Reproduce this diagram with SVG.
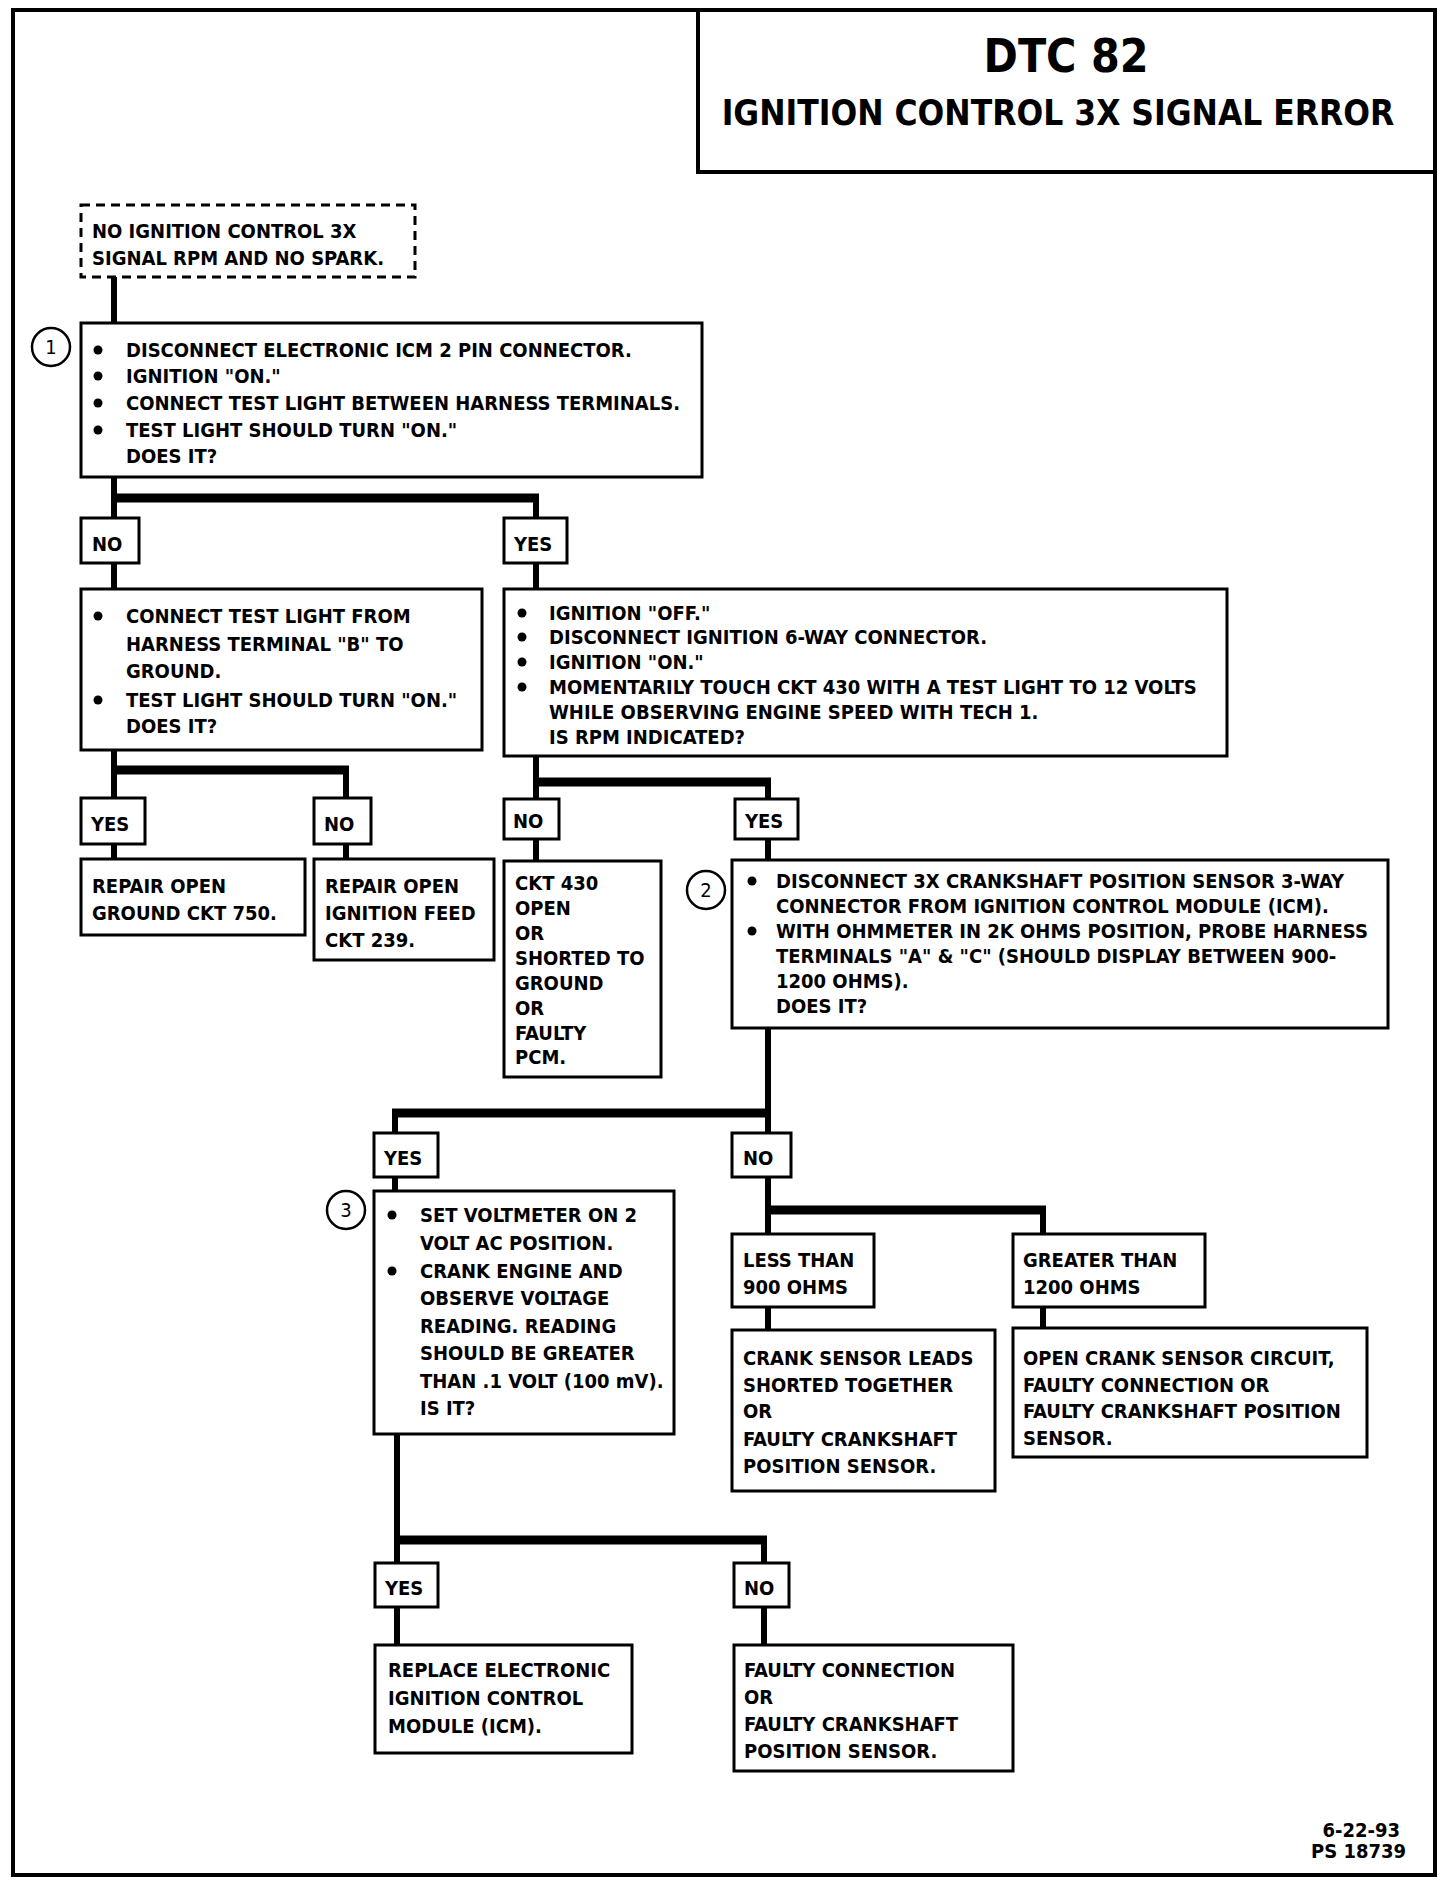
<svg xmlns="http://www.w3.org/2000/svg" width="1440" height="1884" viewBox="0 0 1440 1884">
<style>
text{font-family:"Liberation Sans Narrow","DejaVu Sans Condensed","Liberation Sans",sans-serif;font-weight:bold;font-stretch:condensed;fill:#000;font-size:20px}
.box{fill:#fff;stroke:#000;stroke-width:3}
.dash{fill:#fff;stroke:#000;stroke-width:3;stroke-dasharray:9 6}
.lbl{fill:#fff;stroke:#000;stroke-width:3}
.v{stroke:#000;stroke-width:6;fill:none}
.h{stroke:#000;stroke-width:9;fill:none}
.num{fill:#fff;stroke:#000;stroke-width:2.5}
.numt{font-size:20px;text-anchor:middle;font-weight:normal}
.b{fill:#000}
</style>
<rect x="13" y="10" width="1422" height="1865" fill="#fff" stroke="#000" stroke-width="4"/>
<g id="title">
<rect x="698" y="10" width="737" height="162" fill="#fff" stroke="#000" stroke-width="4"/>
<text x="1066" y="72" text-anchor="middle" style="font-size:46px">DTC 82</text>
<text x="1058" y="125" text-anchor="middle" style="font-size:35px">IGNITION CONTROL 3X SIGNAL ERROR</text>
</g>
<g id="connectors">
<path class="v" d="M114 277V323M114 477V518M536 498V518M114 563V589M536 563V589"/>
<path class="h" d="M111 498H539"/>
<path class="v" d="M114 750V798M346 770V798M114 844V859M346 844V859"/>
<path class="h" d="M111 770H349"/>
<path class="v" d="M536 756V799M768 782V799M536 839V861M768 839V860"/>
<path class="h" d="M533 782H771"/>
<path class="v" d="M768 1028V1234M395 1113V1133M395 1177V1191"/>
<path class="h" d="M392 1113H771"/>
<path class="h" d="M765 1210H1046"/>
<path class="v" d="M1043 1210V1234M768 1307V1330M1043 1307V1328"/>
<path class="v" d="M397 1434V1563M764 1540V1563M397 1607V1645M764 1607V1645"/>
<path class="h" d="M394 1540H767"/>
</g>
<g id="start">
<rect class="dash" x="81" y="205" width="334" height="72"/>
<text x="92" y="238">NO IGNITION CONTROL 3X</text>
<text x="92" y="265">SIGNAL RPM AND NO SPARK.</text>
</g>
<g id="step1">
<circle class="num" cx="51" cy="347" r="19"/>
<text class="numt" x="51" y="354">1</text>
<rect class="box" x="81" y="323" width="621" height="154"/>
<circle class="b" cx="98" cy="350" r="4.5"/>
<circle class="b" cx="98" cy="376" r="4.5"/>
<circle class="b" cx="98" cy="403" r="4.5"/>
<circle class="b" cx="98" cy="430" r="4.5"/>
<text x="126" y="357">DISCONNECT ELECTRONIC ICM 2 PIN CONNECTOR.</text>
<text x="126" y="383">IGNITION "ON."</text>
<text x="126" y="410">CONNECT TEST LIGHT BETWEEN HARNESS TERMINALS.</text>
<text x="126" y="437">TEST LIGHT SHOULD TURN "ON."</text>
<text x="126" y="463">DOES IT?</text>
</g>
<g id="no1">
<rect class="lbl" x="81" y="518" width="58" height="45"/>
<text x="92" y="551">NO</text>
</g>
<g id="yes1">
<rect class="lbl" x="504" y="518" width="63" height="45"/>
<text x="514" y="551">YES</text>
</g>
<g id="step-b">
<rect class="box" x="81" y="589" width="401" height="161"/>
<circle class="b" cx="98" cy="616" r="4.5"/>
<circle class="b" cx="98" cy="700" r="4.5"/>
<text x="126" y="623">CONNECT TEST LIGHT  FROM</text>
<text x="126" y="651">HARNESS TERMINAL "B" TO</text>
<text x="126" y="678">GROUND.</text>
<text x="126" y="707">TEST LIGHT SHOULD TURN "ON."</text>
<text x="126" y="733">DOES IT?</text>
</g>
<g id="step-rpm">
<rect class="box" x="504" y="589" width="723" height="167"/>
<circle class="b" cx="522" cy="613" r="4.5"/>
<circle class="b" cx="522" cy="637" r="4.5"/>
<circle class="b" cx="522" cy="662" r="4.5"/>
<circle class="b" cx="522" cy="687" r="4.5"/>
<text x="549" y="620">IGNITION "OFF."</text>
<text x="549" y="644">DISCONNECT IGNITION 6-WAY CONNECTOR.</text>
<text x="549" y="669">IGNITION "ON."</text>
<text x="549" y="694">MOMENTARILY TOUCH CKT 430 WITH A TEST LIGHT TO 12 VOLTS</text>
<text x="549" y="719">WHILE OBSERVING ENGINE SPEED WITH TECH 1.</text>
<text x="549" y="744">IS RPM INDICATED?</text>
</g>
<g id="yes2">
<rect class="lbl" x="81" y="798" width="64" height="46"/>
<text x="91" y="831">YES</text>
</g>
<g id="no2">
<rect class="lbl" x="314" y="798" width="57" height="46"/>
<text x="324" y="831">NO</text>
</g>
<g id="repair-ground">
<rect class="box" x="81" y="859" width="224" height="76"/>
<text x="92" y="893">REPAIR OPEN</text>
<text x="92" y="920">GROUND CKT 750.</text>
</g>
<g id="repair-feed">
<rect class="box" x="314" y="859" width="180" height="101"/>
<text x="325" y="893">REPAIR OPEN</text>
<text x="325" y="920">IGNITION FEED</text>
<text x="325" y="947">CKT 239.</text>
</g>
<g id="no3">
<rect class="lbl" x="504" y="799" width="55" height="40"/>
<text x="513" y="828">NO</text>
</g>
<g id="yes3">
<rect class="lbl" x="735" y="799" width="63" height="40"/>
<text x="745" y="828">YES</text>
</g>
<g id="ckt430">
<rect class="box" x="504" y="861" width="157" height="216"/>
<text x="515" y="890">CKT 430</text>
<text x="515" y="915">OPEN</text>
<text x="515" y="940">OR</text>
<text x="515" y="965">SHORTED TO</text>
<text x="515" y="990">GROUND</text>
<text x="515" y="1015">OR</text>
<text x="515" y="1040">FAULTY</text>
<text x="515" y="1064">PCM.</text>
</g>
<g id="step2">
<circle class="num" cx="706" cy="890" r="19"/>
<text class="numt" x="706" y="897">2</text>
<rect class="box" x="732" y="860" width="656" height="168"/>
<circle class="b" cx="752" cy="881" r="4.5"/>
<circle class="b" cx="752" cy="931" r="4.5"/>
<text x="776" y="888">DISCONNECT 3X CRANKSHAFT POSITION SENSOR 3-WAY</text>
<text x="776" y="913">CONNECTOR FROM IGNITION CONTROL MODULE (ICM).</text>
<text x="776" y="938">WITH OHMMETER IN 2K OHMS POSITION, PROBE HARNESS</text>
<text x="776" y="963">TERMINALS "A" &amp; "C" (SHOULD DISPLAY BETWEEN 900-</text>
<text x="776" y="988">1200 OHMS).</text>
<text x="776" y="1013">DOES IT?</text>
</g>
<g id="yes4">
<rect class="lbl" x="374" y="1133" width="64" height="44"/>
<text x="384" y="1165">YES</text>
</g>
<g id="no4">
<rect class="lbl" x="732" y="1133" width="59" height="44"/>
<text x="743" y="1165">NO</text>
</g>
<g id="step3">
<circle class="num" cx="346" cy="1210" r="19"/>
<text class="numt" x="346" y="1217">3</text>
<rect class="box" x="374" y="1191" width="300" height="243"/>
<circle class="b" cx="392" cy="1215" r="4.5"/>
<circle class="b" cx="392" cy="1271" r="4.5"/>
<text x="420" y="1222">SET VOLTMETER ON 2</text>
<text x="420" y="1250">VOLT AC POSITION.</text>
<text x="420" y="1278">CRANK ENGINE AND</text>
<text x="420" y="1305">OBSERVE VOLTAGE</text>
<text x="420" y="1333">READING.  READING</text>
<text x="420" y="1360">SHOULD BE GREATER</text>
<text x="420" y="1388">THAN .1 VOLT (100 mV).</text>
<text x="420" y="1415">IS IT?</text>
</g>
<g id="less900">
<rect class="box" x="732" y="1234" width="142" height="73"/>
<text x="743" y="1267">LESS THAN</text>
<text x="743" y="1294">900 OHMS</text>
</g>
<g id="greater1200">
<rect class="box" x="1013" y="1234" width="192" height="73"/>
<text x="1023" y="1267">GREATER THAN</text>
<text x="1023" y="1294">1200 OHMS</text>
</g>
<g id="shorted">
<rect class="box" x="732" y="1330" width="263" height="161"/>
<text x="743" y="1365">CRANK SENSOR LEADS</text>
<text x="743" y="1392">SHORTED TOGETHER</text>
<text x="743" y="1418">OR</text>
<text x="743" y="1446">FAULTY CRANKSHAFT</text>
<text x="743" y="1473">POSITION SENSOR.</text>
</g>
<g id="open-circuit">
<rect class="box" x="1013" y="1328" width="354" height="129"/>
<text x="1023" y="1365">OPEN CRANK SENSOR CIRCUIT,</text>
<text x="1023" y="1392">FAULTY CONNECTION OR</text>
<text x="1023" y="1418">FAULTY CRANKSHAFT POSITION</text>
<text x="1023" y="1445">SENSOR.</text>
</g>
<g id="yes5">
<rect class="lbl" x="375" y="1563" width="63" height="44"/>
<text x="385" y="1595">YES</text>
</g>
<g id="no5">
<rect class="lbl" x="734" y="1563" width="55" height="44"/>
<text x="744" y="1595">NO</text>
</g>
<g id="replace-icm">
<rect class="box" x="375" y="1645" width="257" height="108"/>
<text x="388" y="1677">REPLACE ELECTRONIC</text>
<text x="388" y="1705">IGNITION CONTROL</text>
<text x="388" y="1733">MODULE (ICM).</text>
</g>
<g id="faulty-conn">
<rect class="box" x="734" y="1645" width="279" height="126"/>
<text x="744" y="1677">FAULTY CONNECTION</text>
<text x="744" y="1704">OR</text>
<text x="744" y="1731">FAULTY CRANKSHAFT</text>
<text x="744" y="1758">POSITION SENSOR.</text>
</g>
<g id="footer">
<text x="1400" y="1837" text-anchor="end">6-22-93</text>
<text x="1406" y="1858" text-anchor="end">PS 18739</text>
</g>
</svg>
